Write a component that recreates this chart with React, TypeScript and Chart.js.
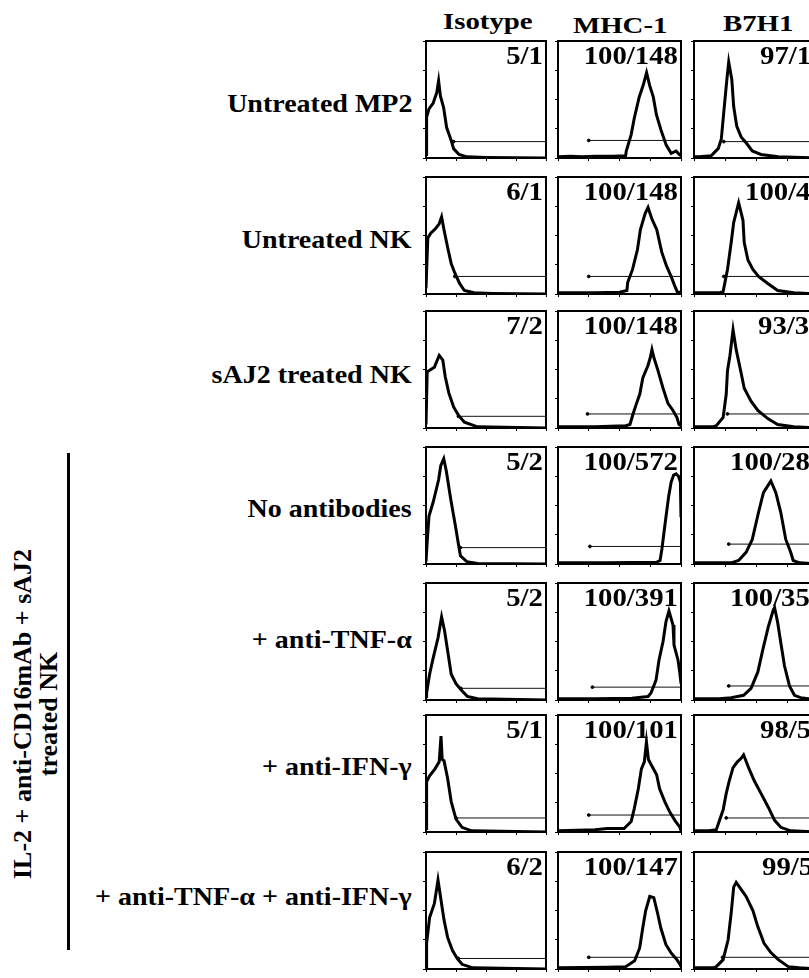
import React, { useEffect, useRef } from "react";
import { Chart, registerables } from "chart.js";
Chart.register(...registerables);

// ---------- text ----------
const columnTitles = ["Isotype", "MHC-1", "B7H1"];
const rowLabels = [
  "Untreated MP2",
  "Untreated NK",
  "sAJ2 treated NK",
  "No antibodies",
  "+ anti-TNF-α",
  "+ anti-IFN-γ",
  "+ anti-TNF-α + anti-IFN-γ",
];
const groupLabel = ["IL-2 + anti-CD16mAb + sAJ2", "treated NK"];
const isoLabels = ["5/1", "6/1", "7/2", "5/2", "5/2", "5/1", "6/2"];
const mhcLabels = ["100/148", "100/148", "100/148", "100/572", "100/391", "100/101", "100/147"];
const b7h1Labels = ["97/1", "100/4", "93/3", "100/28", "100/35", "98/5", "99/5"];

// ---------- histograms: [channel %, count %] ----------
const mp2Iso = [[0,3],[0.5,35],[2.5,42],[6,47],[9,56],[10.5,66],[12,53],[14.7,43],[17.2,26],[21,15],[23,8],[27.5,3],[34,1],[50,0.5],[100,0]];
const nkIso = [[0,5],[1.5,48],[4,52],[8,56],[11,60],[13,66],[15,55],[18,40],[21,26],[24,18],[28,9],[32,3],[40,1],[55,0.5],[100,0]];
const sajIso = [[0,3],[1,48],[7,52],[11,62],[14,58],[16,44],[19,30],[23,18],[27,11],[32,5],[43,1],[100,0]];
const noAbIso = [[0,2],[1,19],[2.5,41],[6,53],[10.5,72],[12.3,84],[14.8,90],[17,79],[20.5,56],[24.6,32],[27,17],[28.7,7],[34,2],[43,0.5],[100,0]];
const tnfIso = [[0,3],[0.5,6],[3,22],[6,36],[10,53],[13,71],[15.5,59],[18.5,39],[21,22],[25,14],[29,9],[34.5,3],[43,1],[100,0]];
const ifnIso = [[0,3],[0.5,43],[3,48],[7.5,54],[11,60],[12.5,82],[13.5,62],[15,61],[18,46],[21,26],[25,11],[30,4],[38,1],[100,0]];
const bothIso = [[0,2],[0.5,22],[3,44],[7,56],[10,76],[12.5,59],[15,42],[18,27],[22,16],[26,9],[30,4],[39,1],[100,0]];

const mp2Mhc = [[0,1],[10,1.5],[20,1],[30,1.5],[45,1.5],[55,2],[55.5,6],[59.5,20],[62,34],[66,52],[69.5,63],[72,73],[74.5,62],[77.5,52],[80,37],[84,23],[88,11],[92,4],[96,6],[99.5,2]];
const nkMhc = [[0,1],[30,1],[50,1.5],[56,3],[56.7,10],[60.6,21],[64.6,38],[67,55],[70.9,69],[73.2,74],[76.4,64],[80.3,55],[84.3,36],[88.2,24],[92,15],[94.5,8],[96.9,2],[100,1]];
const sajMhc = [[0,1],[30,1],[55,2],[58.5,3],[61,12],[63.5,20],[66.5,29],[69,43],[73,53],[75,60],[76.4,67],[78,60],[81.3,49],[85.4,34],[89.4,21],[93.5,15],[96.7,9],[98.4,3],[100,2]];
const noAbMhc = [[0,1],[40,1],[80,1.5],[83,3],[84.5,13],[87.5,38],[90,58],[92,70],[94,76],[96,77],[98,75],[99.5,70],[100,40]];
const tnfMhc = [[0,1],[30,1],[60,1.5],[73.2,3],[75.6,6],[79.7,17],[82.1,34],[85.4,50],[87.8,67],[90.2,76],[93.5,64],[94.3,47],[97.6,34],[99.2,22],[100,14]];
const ifnMhc = [[0,1],[30,2],[40,3],[53.7,3],[59.5,9],[62,20],[65.3,37],[67.8,54],[70.2,60],[71.9,77],[73.5,62],[76,57],[80.2,49],[82.6,37],[86.8,26],[90.9,17],[95,10],[99.2,4],[100,1]];
const bothMhc = [[0,1],[40,1.5],[55,2],[56.5,3],[62.3,7],[66.4,18],[68.9,35],[71.3,50],[74.6,62],[77.9,61],[81.1,47],[83.6,35],[87.7,21],[91.8,14],[95.9,9],[99.2,4],[100,2]];

const mp2B7 = [[0,1],[4,1],[14,2],[19.5,8],[22,16],[24,39],[26.5,67],[28,82],[30.5,67],[32,44],[34.5,27],[38,18],[42,13],[47,6],[54,3],[68,1],[100,0]];
const nkB7 = [[0,1],[20,1],[23.5,2],[27,21],[30,44],[32,61],[36,78],[39.5,63],[40.5,44],[43.5,29],[47.5,21],[52,15],[59.5,9],[67.5,3],[80.5,1],[100,0]];
const sajB7 = [[0,1],[15,1],[18,2],[23.5,9],[26,29],[27,49],[29,62],[31.5,84],[34,67],[38,47],[40.5,34],[46,23],[51.5,15],[59.5,8],[67.5,3],[80.5,1],[100,0]];
const noAbB7 = [[0,1],[30,1],[36,3],[42,10],[47,21],[52,44],[56,61],[62,71],[66,61],[70,44],[74,21],[78,10],[80,3],[85,1],[100,0]];
const tnfB7 = [[0,1],[20,1],[30,2],[40,4],[46,10],[51.5,24],[55.5,43],[60,63],[64,77],[65,79],[67.5,66],[70,49],[73,29],[77,12],[81,4],[86,2],[100,0]];
const ifnB7 = [[0,1],[12,1],[18,2],[23.5,19],[26,33],[28.5,44],[31.5,55],[35,60],[38,63],[40,66],[44,55],[48.5,44],[54,33],[60,21],[65,10],[70,4],[78,1],[100,0]];
const bothB7 = [[0,1],[15,1],[18,2],[23.5,8],[27.5,25],[30,48],[32,70],[34,74],[38,68],[42,62],[47.5,50],[51.5,36],[56.5,22],[62,14],[68,8],[76,2],[85,1],[100,0]];

// gate markers: [start channel %, level %]
const isoGates = [[23,14],[24,15],[27,10],[28.7,14],[29,10],[25,12],[27,9]];
const mhcGates = [[25,15],[25,15],[24,12],[26,15],[28,11],[25,14.5],[25,10]];
const b7h1Gates = [[24,14],[24,15],[27,12],[28,17],[28,12],[26,12],[23,10]];

const isoCurves = [mp2Iso, nkIso, sajIso, noAbIso, tnfIso, ifnIso, bothIso];
const mhcCurves = [mp2Mhc, nkMhc, sajMhc, noAbMhc, tnfMhc, ifnMhc, bothMhc];
const b7h1Curves = [mp2B7, nkB7, sajB7, noAbB7, tnfB7, ifnB7, bothB7];

// ---------- layout ----------
const COL_LEFT = [426, 558, 694];
const COL_W = [120, 123, 124];
const ROW_TOP = [41, 177, 311, 447, 583, 715, 852];
const ROW_H = 117;
const ROW_LABEL_BASELINE = [112, 248, 383, 517, 648, 775, 905];
const B7_LABEL_LEFT = [760, 745, 758, 730, 730, 760, 762];
const SERIF = "'Liberation Serif', 'Times New Roman', serif";

const framePlugin = {
  id: "frame",
  afterDatasetsDraw(chart: any) {
    const { ctx, chartArea } = chart;
    ctx.save();
    ctx.strokeStyle = "#000";
    ctx.lineWidth = 2;
    ctx.strokeRect(chartArea.left, chartArea.top, chartArea.right - chartArea.left, chartArea.bottom - chartArea.top);
    ctx.restore();
  },
};

function Histogram(props: { curve: number[][]; gate: number[]; left: number; top: number; w: number; h: number }) {
  const ref = useRef<HTMLCanvasElement>(null);
  const { curve, gate, left, top, w, h } = props;
  useEffect(() => {
    const border = { display: true, color: "#000", width: 2 };
    const cfg: any = {
      type: "line",
      data: {
        datasets: [
          { data: curve.map(([x, y]) => ({ x, y })), borderColor: "#000", borderWidth: 3, pointRadius: 0, tension: 0, fill: false },
          {
            data: [{ x: gate[0], y: gate[1] }, { x: 100, y: gate[1] }],
            borderColor: "#111",
            borderWidth: 1,
            pointRadius: [1.4, 0],
            pointBackgroundColor: "#000",
            pointBorderColor: "#000",
            fill: false,
          },
        ],
      },
      options: {
        animation: false,
        responsive: false,
        layout: { autoPadding: false, padding: { left: 1, top: 2, right: 2, bottom: 1 } },
        plugins: { legend: { display: false }, tooltip: { enabled: false } },
        scales: {
          x: { type: "linear", min: 0, max: 100, ticks: { display: false, stepSize: 25 }, grid: { display: true, drawOnChartArea: false, tickLength: 3, color: "#000" }, border },
          y: { type: "linear", min: 0, max: 100, ticks: { display: false, stepSize: 25 }, grid: { display: true, drawOnChartArea: false, tickLength: 3, color: "#000" }, border },
        },
      },
      plugins: [framePlugin],
    };
    const chart = new Chart(ref.current!, cfg);
    return () => chart.destroy();
  }, []);
  return (
    <canvas
      ref={ref}
      width={w + 6}
      height={h + 6}
      style={{ position: "absolute", left: left - 4, top: top - 2, width: w + 6, height: h + 6 }}
    />
  );
}

export default function App() {
  const columns = [
    { curves: isoCurves, gates: isoGates, labels: isoLabels },
    { curves: mhcCurves, gates: mhcGates, labels: mhcLabels },
    { curves: b7h1Curves, gates: b7h1Gates, labels: b7h1Labels },
  ];
  const titleTops = [9, 13, 11];
  const titleLefts = [443, 573, 723];
  const textBase: React.CSSProperties = {
    position: "absolute",
    fontFamily: SERIF,
    fontWeight: "bold",
    color: "#000",
    whiteSpace: "nowrap",
  };
  return (
    <div style={{ position: "absolute", left: 0, top: 0, width: 809, height: 978, overflow: "hidden", background: "#fff" }}>
      {columnTitles.map((t, i) => (
        <div key={t} style={{ ...textBase, left: titleLefts[i], top: titleTops[i], fontSize: 24, lineHeight: "24px", transform: "scaleX(1.2)", transformOrigin: "left top" }}>
          {t}
        </div>
      ))}
      {rowLabels.map((t, r) => (
        <div key={t} style={{ ...textBase, right: 809 - 412, top: ROW_LABEL_BASELINE[r] - 21, fontSize: 25, lineHeight: "25px", transform: "scaleX(1.12)", transformOrigin: "right top" }}>
          {t}
        </div>
      ))}
      {columns.map((col, c) =>
        ROW_TOP.map((top, r) => (
          <Histogram key={`h${c}-${r}`} curve={col.curves[r]} gate={col.gates[r]} left={COL_LEFT[c]} top={top} w={COL_W[c]} h={ROW_H} />
        ))
      )}
      {columns.map((col, c) =>
        ROW_TOP.map((top, r) =>
          c < 2 ? (
            <div key={`l${c}-${r}`} style={{ ...textBase, right: 809 - (COL_LEFT[c] + COL_W[c] - 3), top: top + 2, fontSize: 25, lineHeight: "25px", transform: "scaleX(1.15)", transformOrigin: "right top" }}>
              {col.labels[r]}
            </div>
          ) : (
            <div key={`l${c}-${r}`} style={{ ...textBase, left: B7_LABEL_LEFT[r], top: top + 2, fontSize: 25, lineHeight: "25px", transform: "scaleX(1.15)", transformOrigin: "left top" }}>
              {col.labels[r]}
            </div>
          )
        )
      )}
      <div style={{ position: "absolute", left: 67, top: 453, width: 3, height: 497, background: "#000" }} />
      <div
        style={{
          ...textBase,
          left: 36,
          top: 714,
          fontSize: 26,
          lineHeight: "26px",
          textAlign: "center",
          transform: "translate(-50%, -50%) rotate(-90deg)",
        }}
      >
        <div>{groupLabel[0]}</div>
        <div>{groupLabel[1]}</div>
      </div>
    </div>
  );
}
